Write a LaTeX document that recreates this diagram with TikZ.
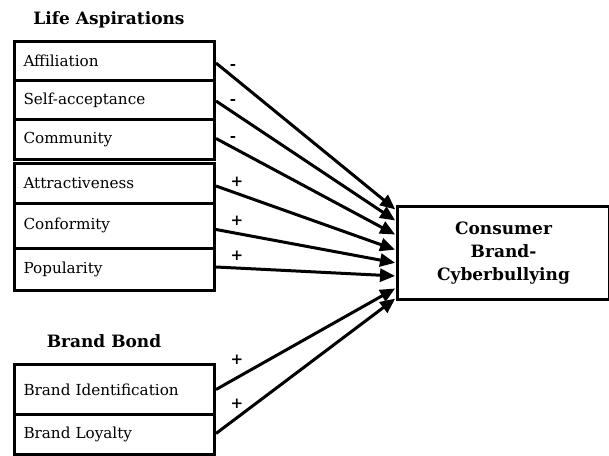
\documentclass[tikz,border=0pt]{standalone}
\usepackage{fontspec}
\setmainfont{DejaVu Serif}
\usetikzlibrary{arrows.meta}
\tikzset{
  itembox/.style={draw, line width=3pt, rectangle, anchor=north west, minimum width=200pt,
    text width=182pt, inner xsep=9pt, align=left, font=\fontsize{15.2}{18}\selectfont},
  title/.style={font=\bfseries\fontsize{17}{20}\selectfont},
  sign/.style={font=\bfseries\fontsize{15}{17}\selectfont, inner sep=0pt},
  conn/.style={line width=3pt, -{Triangle[length=15pt,width=13pt]}, shorten >=1pt},
}
\begin{document}
\begin{tikzpicture}[x=1pt,y=-1pt]
\useasboundingbox (0,0) rectangle (609,455);
\node[title] (la) at (109,20) {Life Aspirations};
\node[itembox, minimum height=39pt] (aff) at (13,40) {Affiliation};
\node[itembox, minimum height=39pt] (self) at (13,79) {Self-acceptance};
\node[itembox, minimum height=40pt] (comm) at (13,118) {Community};
\node[itembox, minimum height=40pt] (attr) at (13,161.5) {Attractiveness};
\node[itembox, minimum height=45pt] (conf) at (13,201.5) {Conformity};
\node[itembox, minimum height=42pt] (pop) at (13,246.5) {Popularity};
\node[title] (bb) at (104,341) {Brand Bond};
\node[itembox, minimum height=50pt] (bi) at (13,363) {Brand Identification};
\node[itembox, minimum height=40pt] (bl) at (13,413) {Brand Loyalty};
\node[draw, line width=3pt, anchor=north west, minimum width=212pt, minimum height=93pt,
  align=center, font=\bfseries\fontsize{17}{23}\selectfont] (cb) at (396,205)
  {Consumer\\Brand-\\Cyberbullying};
\draw[conn] ([yshift=-2pt]aff.east) -- ([yshift=43pt]cb.west);
\draw[conn] ([yshift=-1pt]self.east) -- ([yshift=32pt]cb.west);
\draw[conn] ([yshift=1pt]comm.east) -- ([yshift=18pt]cb.west);
\draw[conn] ([yshift=-3pt]attr.east) -- ([yshift=3pt]cb.west);
\draw[conn] ([yshift=-4pt]conf.east) -- ([yshift=-10pt]cb.west);
\draw[conn] ([yshift=2pt]pop.east) -- ([yshift=-23pt]cb.west);
\draw[conn] ([yshift=0pt]bi.east) -- ([yshift=-35pt]cb.west);
\draw[conn] ([yshift=1pt]bl.east) -- ([yshift=-45pt]cb.west);
\node[sign] (s1) at (233,67) {-};
\node[sign] (s2) at (233,102) {-};
\node[sign] (s3) at (233,139) {-};
\node[sign] (s4) at (237,182) {+};
\node[sign] (s5) at (237,221) {+};
\node[sign] (s6) at (237,256) {+};
\node[sign] (s7) at (237,360) {+};
\node[sign] (s8) at (237,404) {+};
\end{tikzpicture}
\end{document}
